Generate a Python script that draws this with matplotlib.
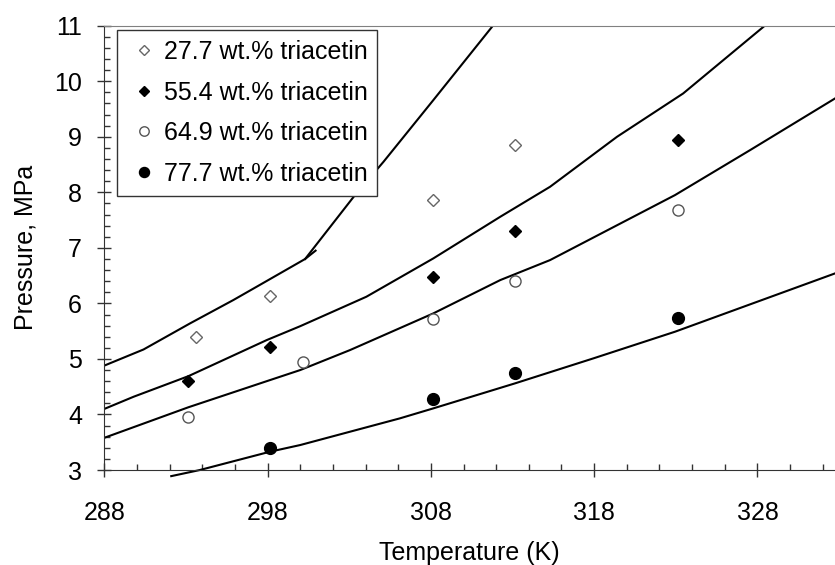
import matplotlib.pyplot as plt
from matplotlib.ticker import MultipleLocator, FixedLocator

plt.rcParams['font.family'] = ['Liberation Sans', 'DejaVu Sans']

# -------------------------------
# DATA (measured points)
# -------------------------------
t_277 = [293.6, 298.15, 308.15, 313.15]
p_277 = [5.40, 6.13, 7.86, 8.85]

t_554 = [293.15, 298.15, 308.15, 313.15, 323.15]
p_554 = [4.60, 5.21, 6.47, 7.30, 8.94]

t_649 = [293.15, 300.15, 308.15, 313.15, 323.15]
p_649 = [3.96, 4.95, 5.72, 6.41, 7.68]

t_777 = [298.15, 308.15, 313.15, 323.15]
p_777 = [3.39, 4.28, 4.74, 5.74]

# -------------------------------
# DATA (model curves)
# -------------------------------
fit_277_lo_t = [288, 290.4, 293.25, 295.9, 297.33, 300.3, 300.94]
fit_277_lo_p = [4.88, 5.17, 5.64, 6.06, 6.30, 6.80, 6.95]
fit_277_hi_t = [300.3, 303.3, 305.1, 308.15, 311.8]
fit_277_hi_p = [6.80, 7.93, 8.55, 9.66, 11.0]

fit_554_t = [288, 289.8, 293.15, 297.95, 300, 304.05, 308.15, 312.25, 315.3, 319.4, 323.45, 328.45]
fit_554_p = [4.10, 4.32, 4.69, 5.34, 5.59, 6.12, 6.81, 7.56, 8.10, 9.00, 9.78, 11.0]

fit_649_t = [288, 293.15, 297.95, 300, 303.05, 308.15, 312.25, 315.3, 322.95, 327.55, 332.75]
fit_649_p = [3.58, 4.13, 4.60, 4.80, 5.16, 5.82, 6.42, 6.78, 7.95, 8.76, 9.69]

fit_777_t = [292.1, 293.85, 298.15, 300, 306.1, 308.15, 313.15, 317.95, 322.95, 332.75]
fit_777_p = [2.89, 3.00, 3.33, 3.45, 3.93, 4.11, 4.56, 5.01, 5.49, 6.54]

labels = ['27.7 wt.% triacetin', '55.4 wt.% triacetin',
          '64.9 wt.% triacetin', '77.7 wt.% triacetin']

x_major = [288, 298, 308, 318, 328]
x_minor = list(range(288, 333, 2))

# -------------------------------
# PLOT
# -------------------------------
fig = plt.figure(figsize=(8.35, 5.65), dpi=100)
ax = fig.add_axes([0.1249, 0.1681, 0.8751, 0.7864])

lw = 1.5
ax.plot(fit_277_lo_t, fit_277_lo_p, color='black', lw=lw)
ax.plot(fit_277_hi_t, fit_277_hi_p, color='black', lw=lw)
ax.plot(fit_554_t, fit_554_p, color='black', lw=lw)
ax.plot(fit_649_t, fit_649_p, color='black', lw=lw)
ax.plot(fit_777_t, fit_777_p, color='black', lw=lw, clip_on=False)

ax.plot(t_277, p_277, 'D', ms=6, mfc='white', mec='#666666', mew=1.0, label=labels[0])
ax.plot(t_554, p_554, 'D', ms=6.3, mfc='black', mec='black', label=labels[1])
ax.plot(t_649, p_649, 'o', ms=8, mfc='white', mec='#555555', mew=1.0, label=labels[2])
ax.plot(t_777, p_777, 'o', ms=8.5, mfc='black', mec='black', label=labels[3])

ax.set_xlim(288, 332.75)
ax.set_ylim(3, 11)

ax.xaxis.set_major_locator(FixedLocator(x_major))
ax.xaxis.set_minor_locator(FixedLocator(x_minor))
ax.yaxis.set_major_locator(MultipleLocator(1))
ax.yaxis.set_minor_locator(MultipleLocator(0.2))

ax.tick_params(which='major', direction='inout', length=10, width=1, labelsize=18, color='#333333')
ax.tick_params(which='minor', direction='in', length=4, width=1, color='#333333')
ax.tick_params(axis='x', which='major', pad=17)
ax.tick_params(axis='y', which='major', pad=11)

ax.spines['right'].set_visible(False)
ax.spines['top'].set_color('#808080')
ax.spines['left'].set_color('#333333')
ax.spines['bottom'].set_color('#333333')

ax.set_xlabel("Temperature (K)", fontsize=18, labelpad=12)
ax.set_ylabel("Pressure, MPa", fontsize=18, labelpad=12)

leg = ax.legend(loc='upper left', bbox_to_anchor=(0.0178, 0.99), borderaxespad=0,
                fontsize=18, fancybox=False, edgecolor='#333333', framealpha=1,
                handlelength=1.3, handletextpad=0.15, labelspacing=0.66,
                borderpad=0.4, markerscale=0.85)
leg.get_frame().set_linewidth(1.0)

plt.savefig("out.png", dpi=100)
